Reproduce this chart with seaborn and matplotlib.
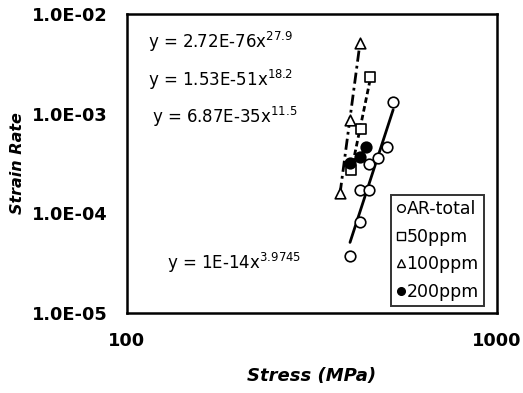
import numpy as np
import pandas as pd
import matplotlib
matplotlib.use("Agg")
import matplotlib.pyplot as plt
from matplotlib.lines import Line2D
import seaborn as sns

# ---- data ----
ar_stress = [400.6, 426, 426, 451, 451, 477, 504, 524]
ar_rate = [3.73e-5, 8.17e-5, 1.71e-4, 1.71e-4, 3.13e-4, 3.59e-4, 4.63e-4, 1.31e-3]
p50_stress = [403, 429, 454]
p50_rate = [2.72e-4, 7.0e-4, 2.33e-3]
p100_stress = [376.4, 400.6, 426]
p100_rate = [1.60e-4, 8.63e-4, 5.11e-3]
p200_stress = [400.6, 426, 442.6]
p200_rate = [3.2e-4, 3.67e-4, 4.63e-4]

series_labels = ["AR-total", "50ppm", "100ppm", "200ppm"]
equations = ["y = 2.72E-76x", "y = 1.53E-51x", "y = 6.87E-35x", "y = 1E-14x"]
exponents = ["27.9", "18.2", "11.5", "3.9745"]
y_ticks = [1e-5, 1e-4, 1e-3, 1e-2]
y_ticklabels = ["1.0E-05", "1.0E-04", "1.0E-03", "1.0E-02"]
x_ticks = [100, 1000]
x_ticklabels = ["100", "1000"]

sns.set_style("white")
plt.rcParams['font.family'] = ['DejaVu Sans']
plt.rcParams['text.color'] = 'black'
plt.rcParams['axes.labelcolor'] = 'black'
plt.rcParams['xtick.color'] = 'black'
plt.rcParams['ytick.color'] = 'black'

fig = plt.figure(figsize=(5.23, 3.93), dpi=100)
ax = fig.add_axes([0.2428, 0.2036, 0.7075, 0.7608])


def fit_line(xs, ys):
    lx, ly = np.log10(xs), np.log10(ys)
    k, b = np.polyfit(lx, ly, 1)
    xx = np.array([min(xs), max(xs)])
    return pd.DataFrame({"x": xx, "y": 10 ** (b + k * np.log10(xx))})


# fit lines
styles = [
    (ar_stress, ar_rate, dict(linestyle="-", linewidth=2.0)),
    (p50_stress, p50_rate, dict(linestyle=(0, (2.0, 1.2)), linewidth=2.0)),
    (p100_stress, p100_rate, dict(linestyle=(0, (4.0, 1.5, 1.0, 1.5)), linewidth=2.0)),
    (p200_stress, p200_rate, dict(linestyle="-", linewidth=1.5)),
]
for xs, ys, st in styles:
    d = fit_line(xs, ys)
    sns.lineplot(data=d, x="x", y="y", ax=ax, color="black", **st)

ms = 58
sns.scatterplot(x=ar_stress, y=ar_rate, ax=ax, marker="o", s=ms, facecolor="white",
                edgecolor="black", linewidth=1.2, zorder=5)
sns.scatterplot(x=p50_stress, y=p50_rate, ax=ax, marker="s", s=ms, facecolor="white",
                edgecolor="black", linewidth=1.2, zorder=5)
sns.scatterplot(x=p100_stress, y=p100_rate, ax=ax, marker="^", s=ms, facecolor="white",
                edgecolor="black", linewidth=1.2, zorder=5)
sns.scatterplot(x=p200_stress, y=p200_rate, ax=ax, marker="o", s=ms, facecolor="black",
                edgecolor="black", linewidth=1.2, zorder=6)

ax.set_xscale("log")
ax.set_yscale("log")
ax.set_xlim(100, 1000)
ax.set_ylim(1e-5, 1e-2)
ax.set_xticks(x_ticks)
ax.set_xticklabels(x_ticklabels)
ax.set_yticks(y_ticks)
ax.set_yticklabels(y_ticklabels)
ax.minorticks_off()
ax.tick_params(axis="y", direction="in", length=5, width=1.2, pad=14)
ax.tick_params(axis="x", length=0, pad=14)
for lab in ax.get_xticklabels() + ax.get_yticklabels():
    lab.set_fontsize(12.8)
    lab.set_fontweight("bold")

for sp in ax.spines.values():
    sp.set_visible(True)
    sp.set_color("black")
    sp.set_linewidth(1.8)

ax.set_xlabel("Stress (MPa)", fontsize=13, fontweight="bold", fontstyle="italic", labelpad=12)
ax.set_ylabel("Strain Rate", fontsize=11.5, fontweight="bold", fontstyle="italic", labelpad=5)

# equation labels (axes coords)
eq_pos = [(0.058, 0.905), (0.058, 0.78), (0.068, 0.655), (0.108, 0.168)]
for (tx, ty), eq, ex in zip(eq_pos, equations, exponents):
    ax.text(tx, ty, eq + "$^{" + ex + "}$", transform=ax.transAxes, fontsize=12,
            va="center", ha="left")

handles = [
    Line2D([], [], marker="o", linestyle="none", markerfacecolor="white", markeredgecolor="black", markersize=5.5),
    Line2D([], [], marker="s", linestyle="none", markerfacecolor="white", markeredgecolor="black", markersize=5.5),
    Line2D([], [], marker="^", linestyle="none", markerfacecolor="white", markeredgecolor="black", markersize=5.5),
    Line2D([], [], marker="o", linestyle="none", markerfacecolor="black", markeredgecolor="black", markersize=5.5),
]
leg = ax.legend(handles, series_labels, loc="lower right", bbox_to_anchor=(0.965, 0.023),
                fontsize=12.5, frameon=True, fancybox=False, handlelength=0.5,
                handletextpad=0.1, labelspacing=0.55, borderpad=0.3, borderaxespad=0)
leg.get_frame().set_edgecolor("black")
leg.get_frame().set_linewidth(1.4)

fig.savefig("out.png", dpi=100)
